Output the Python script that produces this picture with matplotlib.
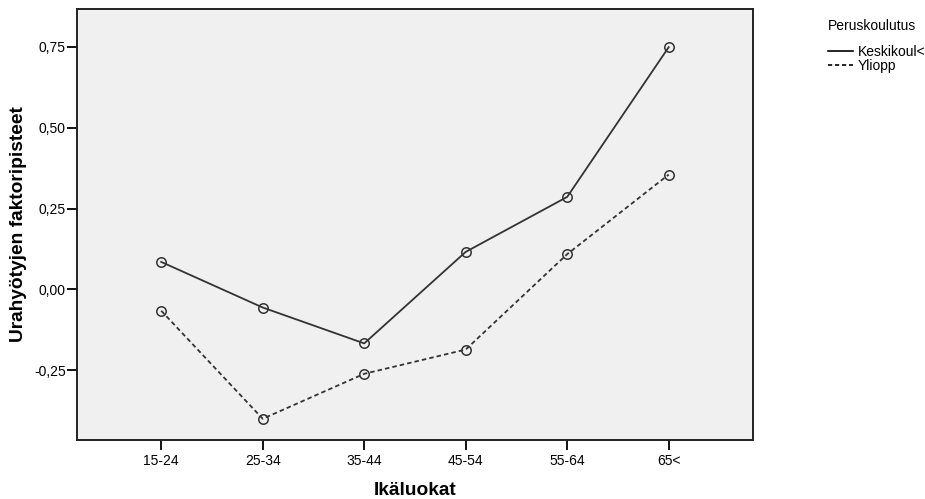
import matplotlib
matplotlib.use("Agg")
import matplotlib.pyplot as plt
from matplotlib.lines import Line2D

plt.rcParams['font.family'] = ['Liberation Sans', 'DejaVu Sans']

categories = ['15-24', '25-34', '35-44', '45-54', '55-64', '65<']
keskikoul = [0.085, -0.056, -0.167, 0.116, 0.286, 0.749]
yliopp = [-0.066, -0.400, -0.261, -0.186, 0.109, 0.355]
yticks = [-0.25, 0.0, 0.25, 0.50, 0.75]
yticklabels = ['-0,25', '0,00', '0,25', '0,50', '0,75']

fig = plt.figure(figsize=(9.25, 4.99), dpi=100)
ax = fig.add_axes([0.0832, 0.118, 0.7308, 0.864])
ax.set_facecolor('#f0f0f0')

x = list(range(len(categories)))
lc = '#333333'
dash = (0, (2.5, 1.7))
ax.plot(x, keskikoul, color=lc, lw=1.3, ls='-', marker='o', ms=6.8,
        mfc='none', mec=lc, mew=1.1)
ax.plot(x, yliopp, color=lc, lw=1.3, ls=dash, marker='o', ms=6.8,
        mfc='none', mec=lc, mew=1.1)

ax.set_xlim(-0.83, 5.83)
ax.set_ylim(-0.466, 0.867)
ax.set_xticks(x)
ax.set_xticklabels(categories, fontsize=10)
ax.set_yticks(yticks)
ax.set_yticklabels(yticklabels, fontsize=10)
ax.tick_params(direction='out', length=7, width=1.3, color='black')
ax.tick_params(axis='y', pad=1)
ax.tick_params(axis='x', pad=3)
for sp in ax.spines.values():
    sp.set_linewidth(1.4)
    sp.set_color('#222222')

ax.set_xlabel('Ikäluokat', fontsize=13.8, fontweight='bold', labelpad=10)
ax.set_ylabel('Urahyötyjen faktoripisteet', fontsize=13.8, fontweight='bold', labelpad=5)

handles = [Line2D([], [], color='black', lw=1.2, ls='-'),
           Line2D([], [], color='black', lw=1.2, ls=dash)]
leg = fig.legend(handles, ['Keskikoul<', 'Yliopp'], title='Peruskoulutus',
                 loc='upper left', bbox_to_anchor=(0.888, 0.975), frameon=False,
                 fontsize=10, title_fontsize=10, handlelength=1.8,
                 handletextpad=0.3, labelspacing=0.05, borderpad=0)
leg._legend_box.align = 'left'
leg._legend_box.sep = 8

fig.savefig('out.png', dpi=100)
